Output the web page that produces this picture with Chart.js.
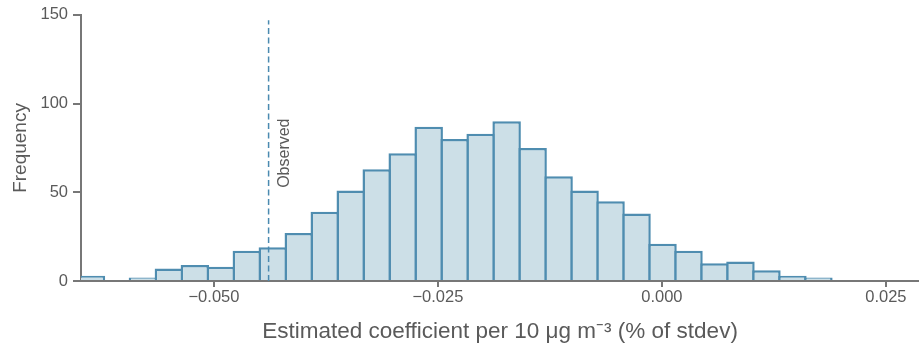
<!DOCTYPE html>
<html><head><meta charset="utf-8">
<script src="https://cdn.jsdelivr.net/npm/chart.js@4.4.0/dist/chart.umd.min.js"></script>
<style>html,body{margin:0;padding:0;background:#fff}#wrap{width:919px;height:345px}</style>
</head><body><div id="wrap"><canvas id="c" width="919" height="345"></canvas></div>
<script>
const binStart = -0.06518;
const binWidth = 0.0029;
const counts = [3, 0, 2, 7, 9, 8, 17, 19, 27, 39, 51, 63, 72, 87, 80, 83, 90, 75, 59, 51, 45, 38, 21, 17, 10, 11, 6, 3, 2];
const xTicks = [-0.05, -0.025, 0, 0.025];
const yTicks = [0, 50, 100, 150];
const observedValue = -0.0439;
const observedTop = 147;
const observedLabel = 'Observed';
const xTitle = 'Estimated coefficient per 10 \u03bcg m\u207b\u00b3 (% of stdev)';
const yTitle = 'Frequency';

const barData = counts.map((c, i) => ({x: binStart + binWidth * (i + 0.5), y: c}));
const txt = '#5a5a5a', ax = '#777777';
const fontFam = '"Liberation Sans", Arial, Helvetica, sans-serif';

const obsLabelPlugin = {
  id: 'obsLabel',
  afterDatasetsDraw(chart) {
    const {ctx, scales} = chart;
    const x = scales.x.getPixelForValue(observedValue) + 16;
    const y = scales.y.getPixelForValue(52.5);
    ctx.save();
    ctx.translate(x, y);
    ctx.rotate(-Math.PI / 2);
    ctx.font = '16px ' + fontFam;
    ctx.fillStyle = txt;
    ctx.textAlign = 'left';
    ctx.textBaseline = 'middle';
    ctx.fillText(observedLabel, 0, 0);
    ctx.restore();
  }
};

new Chart(document.getElementById('c'), {
  type: 'bar',
  data: {
    datasets: [{
      type: 'line',
      data: [{x: observedValue, y: 0}, {x: observedValue, y: observedTop}],
      borderColor: '#4a8ab0',
      borderWidth: 1.5,
      borderDash: [6, 3.5],
      pointRadius: 0,
      order: 0
    }, {
      type: 'bar',
      data: barData,
      backgroundColor: '#ccdfe7',
      borderColor: '#4f8db0',
      borderWidth: 2.5,
      borderSkipped: 'start',
      barPercentage: 28.5 / 26,
      categoryPercentage: 1,
      order: 1
    }]
  },
  options: {
    responsive: false,
    animation: false,
    devicePixelRatio: 1,
    layout: {padding: {top: 11, right: 0, left: 0, bottom: 0}},
    plugins: {legend: {display: false}, tooltip: {enabled: false}},
    scales: {
      x: {
        type: 'linear',
        offset: false,
        min: -0.06484,
        max: 0.0287,
        afterBuildTicks(s) { s.ticks = xTicks.map(v => ({value: v})); },
        afterFit(s) { s.height = 64; },
        ticks: {
          color: txt, font: {family: fontFam, size: 16.5}, padding: 1,
          maxRotation: 0,
          callback: v => v.toFixed(3).replace('-', '\u2212')
        },
        grid: {offset: false, drawOnChartArea: false, drawTicks: true, tickLength: 6, color: ax, lineWidth: 2},
        border: {color: ax, width: 2},
        title: {display: true, text: xTitle, color: txt, font: {family: fontFam, size: 22.5}, padding: {top: 1, bottom: 0}}
      },
      y: {
        min: 0, max: 150,
        afterBuildTicks(s) { s.ticks = yTicks.map(v => ({value: v})); },
        afterFit(s) { s.width = 81; },
        ticks: {color: txt, font: {family: fontFam, size: 16.5}, padding: 5},
        grid: {drawOnChartArea: false, drawTicks: true, tickLength: 8, color: ax, lineWidth: 2},
        border: {color: ax, width: 2},
        title: {display: true, text: yTitle, color: txt, font: {family: fontFam, size: 19}, padding: {top: 9, bottom: 0}}
      }
    }
  },
  plugins: [obsLabelPlugin]
});
</script>
</body></html>
